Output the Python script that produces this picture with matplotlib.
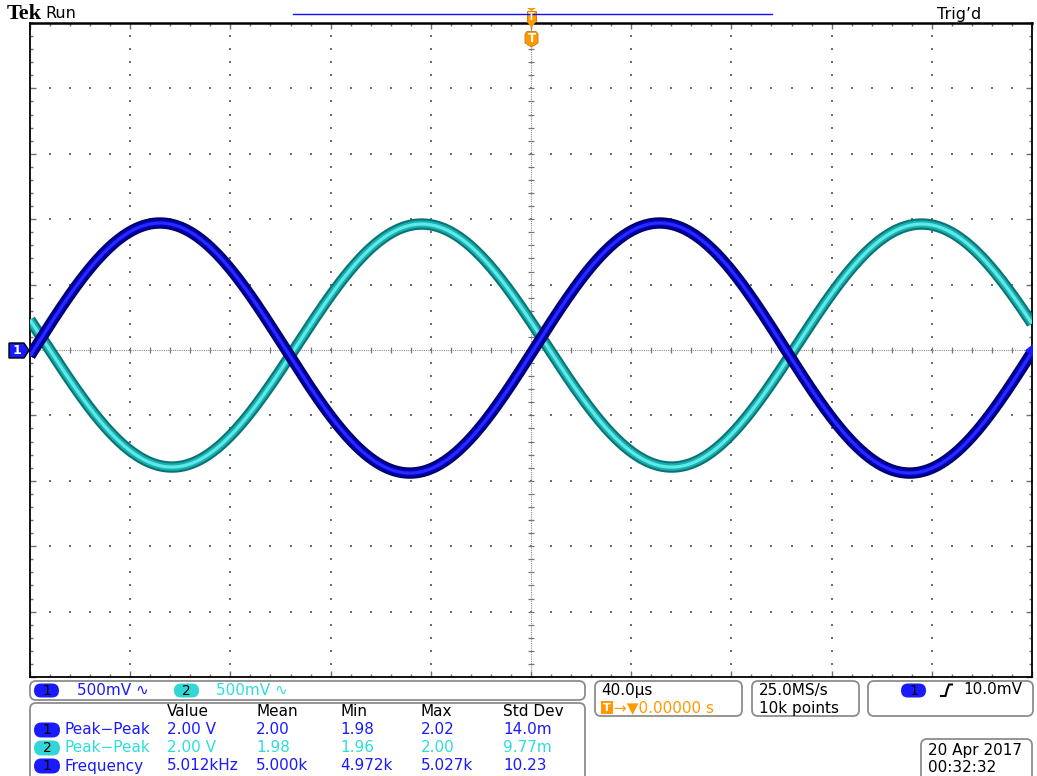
import numpy as np
import matplotlib
matplotlib.use("Agg")
import matplotlib.pyplot as plt
from matplotlib.patches import FancyBboxPatch, Polygon, Rectangle
from matplotlib.lines import Line2D

# ---- acquisition settings ----
time_per_div_us = 40.0          # 40.0 us/div
volts_per_div = 0.5             # 500 mV/div on both channels
n_hdiv, n_vdiv = 10, 10

# ---- channel signals (volts, microseconds) ----
freq_khz = 5.012
ch1_amp, ch1_offset, ch1_delay_us = 0.956, 0.015, 1.5      # sine, rising through trigger
ch2_amp, ch2_offset, ch2_peak_us = 0.929, 0.034, -43.6     # inverted, slight lag

# ---- measurement table ----
meas_header = ["Value", "Mean", "Min", "Max", "Std Dev"]
meas_rows = [
    ("1", "Peak\u2212Peak", ["2.00 V", "2.00", "1.98", "2.02", "14.0m"]),
    ("2", "Peak\u2212Peak", ["2.00 V", "1.98", "1.96", "2.00", "9.77m"]),
    ("1", "Frequency", ["5.012kHz", "5.000k", "4.972k", "5.027k", "10.23"]),
]
ch_scale_labels = ["500mV \u223f", "500mV \u223f"]
timebase_label = "40.0\u00b5s"
trig_pos_label = "\u2192\u25bc0.00000 s"
sample_labels = ["25.0MS/s", "10k points"]
trig_level_label = "10.0mV"
date_labels = ["20 Apr 2017", "00:32:32"]

BLUE = "#1a1aff"
CYAN = "#33d6d6"
CYAN_TXT = "#2fdcdc"
ORANGE = "#ff9a00"
GRID = "#6e6e6e"

W, H = 1037, 776
fig = plt.figure(figsize=(W / 100, H / 100), dpi=100, facecolor="white")
plt.rcParams["font.family"] = ["DejaVu Sans"]

# ---- graticule ----
gx0, gx1, gy0, gy1 = 30, 1032, 23, 677
ax = fig.add_axes([gx0 / W, (H - gy1) / H, (gx1 - gx0) / W, (gy1 - gy0) / H])
half_t = time_per_div_us * n_hdiv / 2
half_v = volts_per_div * n_vdiv / 2
ax.set_xlim(-half_t, half_t)
ax.set_ylim(-half_v, half_v)
ax.set_facecolor("white")

major_x = np.arange(-half_t, half_t + 1e-9, time_per_div_us)
minor_x = np.arange(-half_t, half_t + 1e-9, time_per_div_us / 5)
major_y = np.arange(-half_v, half_v + 1e-9, volts_per_div)
minor_y = np.arange(-half_v, half_v + 1e-9, volts_per_div / 5)
ax.set_xticks(major_x)
ax.set_xticks(minor_x, minor=True)
ax.set_yticks(major_y)
ax.set_yticks(minor_y, minor=True)
ax.tick_params(which="both", direction="in", top=True, right=True,
               labelbottom=False, labelleft=False, color="#707070", width=1.0)
ax.tick_params(which="major", length=4.5)
ax.tick_params(which="minor", length=2.4)
for sp in ax.spines.values():
    sp.set_color("black")
    sp.set_linewidth(1.3)
ax.spines["top"].set_linewidth(1.8)

# dotted division lines
inner_x = [v for v in major_x[1:-1] if abs(v) > 1e-9]
inner_y = [v for v in major_y[1:-1] if abs(v) > 1e-9]
dx, dy = [], []
for xv in inner_x:
    dx += [xv] * len(minor_y)
    dy += list(minor_y)
for yv in inner_y:
    dx += list(minor_x)
    dy += [yv] * len(minor_x)
ax.scatter(dx, dy, s=1.3, marker="s", color=GRID, linewidths=0, zorder=1)

# centre cross-hair with sub-division ticks
ax.axhline(0, color="#8a8a8a", lw=0.8, ls=(0, (1, 1)), zorder=1)
ax.axvline(0, color="#8a8a8a", lw=0.8, ls=(0, (1, 1)), zorder=1)
ax.plot(minor_x, np.zeros_like(minor_x), ls="none", marker="|", ms=5,
        mew=0.9, color="#777777", zorder=1)
ax.plot(np.zeros_like(minor_y), minor_y, ls="none", marker="_", ms=5,
        mew=0.9, color="#777777", zorder=1)

# ---- traces ----
t = np.linspace(-half_t, half_t, 2001)
w = 2 * np.pi * freq_khz * 1e-3          # rad per microsecond
ch1 = ch1_amp * np.sin(w * (t - ch1_delay_us)) + ch1_offset
ch2 = ch2_amp * np.cos(w * (t - ch2_peak_us)) + ch2_offset

for y, cols in ((ch2, ("#0a7373", "#1bb0b0", "#5fe9e9")),
                (ch1, ("#000066", "#0000c0", "#2a2aff"))):
    ax.plot(t, y, color=cols[0], lw=8.2, solid_capstyle="butt", zorder=3)
    ax.plot(t, y, color=cols[1], lw=5.2, solid_capstyle="butt", zorder=3)
    ax.plot(t, y, color=cols[2], lw=2.3, solid_capstyle="butt", zorder=3)

# ---- overlay in pixel coordinates ----
ov = fig.add_axes([0, 0, 1, 1], zorder=5)
ov.set_xlim(0, W)
ov.set_ylim(H, 0)
ov.axis("off")
ov.patch.set_alpha(0)

FS = 11


def box(x0, y0, x1, y1, r=6, ec="#8c8c8c"):
    ov.add_patch(FancyBboxPatch((x0, y0), x1 - x0, y1 - y0,
                                boxstyle=f"round,pad=0,rounding_size={r}",
                                fc="white", ec=ec, lw=1.3, clip_on=False))


def badge(x0, x1, yc, label, fc, h=14):
    ov.add_patch(FancyBboxPatch((x0, yc - h / 2), x1 - x0, h,
                                boxstyle=f"round,pad=0,rounding_size={h / 2}",
                                fc=fc, ec="none", clip_on=False))
    ov.text((x0 + x1) / 2, yc + 0.5, label, ha="center", va="center",
            fontsize=10, color="black")


# header line
ov.text(7, 14, "Tek", family="Liberation Serif", fontweight="bold",
        fontsize=16, va="center", ha="left", color="black")
ov.text(45, 14, "Run", fontsize=11.5, va="center", ha="left", color="black")
ov.text(937, 14, "Trig\u2019d", fontsize=11.5, va="center", ha="left", color="black")
ov.add_line(Line2D([293, 772], [14, 14], color="#1010ff", lw=1.0))

# trigger position markers
ov.add_patch(Polygon([[527, 8], [536, 8], [531.5, 11]], closed=True, fc=ORANGE, ec="none"))
ov.add_patch(Rectangle((527, 11), 9, 10, fc=ORANGE, ec="#c87000", lw=0.6))
ov.text(531.5, 16.5, "T", ha="center", va="center", fontsize=7, color="#fff3d0",
        fontweight="bold")
ov.add_patch(Polygon([[526.5, 21], [536.5, 21], [531.5, 28]], closed=True,
                     fc=ORANGE, ec="none"))
ov.add_patch(Polygon([[525, 34], [527, 31.5], [536, 31.5], [538, 34], [538, 43],
                      [531.5, 47], [525, 43]], closed=True, fc=ORANGE, ec="#d07800", lw=0.6))
ov.text(531.5, 39, "T", ha="center", va="center", fontsize=8.5, color="white",
        fontweight="bold")

# channel 1 ground marker and trigger level marker
ov.add_patch(Polygon([[9, 343], [24, 343], [29, 350.5], [24, 358], [9, 358]],
                     closed=True, fc=BLUE, ec="black", lw=1.0))
ov.text(17, 351, "1", ha="center", va="center", fontsize=9, color="white",
        fontweight="bold")
ov.add_patch(Polygon([[1033, 344], [1025, 350.5], [1033, 357]], closed=True,
                     fc=BLUE, ec="none"))

# channel scale bar
box(30, 681, 585, 700)
badge(34, 59, 690.5, "1", BLUE)
ov.text(77, 690.5, ch_scale_labels[0], fontsize=FS, color=BLUE, va="center")
badge(174, 199, 690.5, "2", CYAN)
ov.text(216, 690.5, ch_scale_labels[1], fontsize=FS, color=CYAN_TXT, va="center")

# measurement table
box(30, 703, 585, 790)
col_x = [167, 256, 340, 421, 503]
for cx, h in zip(col_x, meas_header):
    ov.text(cx, 712, h, fontsize=FS, color="black", va="center")
row_y = [730, 748, 766]
for ry, (ch, name, vals) in zip(row_y, meas_rows):
    fc = BLUE if ch == "1" else CYAN
    tc = BLUE if ch == "1" else CYAN_TXT
    badge(34, 60, ry, ch, fc, h=15)
    ov.text(65, ry, name, fontsize=FS, color=tc, va="center")
    for cx, v in zip(col_x, vals):
        ov.text(cx, ry, v, fontsize=FS, color=tc, va="center")

# timebase box
box(595, 681, 742, 716)
ov.text(601, 690, timebase_label, fontsize=FS, color="black", va="center")
ov.add_patch(Rectangle((601, 701), 12, 13, fc=ORANGE, ec="none"))
ov.text(607, 708, "T", ha="center", va="center", fontsize=8, color="white",
        fontweight="bold")
ov.text(614, 708, trig_pos_label, fontsize=FS, color=ORANGE, va="center")

# sample rate box
box(752, 681, 859, 716)
ov.text(759, 690, sample_labels[0], fontsize=FS, color="black", va="center")
ov.text(759, 708, sample_labels[1], fontsize=FS, color="black", va="center")

# trigger box
box(868, 681, 1033, 716)
badge(901, 926, 690.5, "1", BLUE)
ov.add_line(Line2D([941, 945.5, 947, 949, 952], [696, 696, 690, 684.5, 684.5],
                   color="black", lw=1.5))
ov.text(963, 690, trig_level_label, fontsize=FS, color="black", va="center")

# date box
box(921, 739, 1032, 790)
ov.text(928, 751, date_labels[0], fontsize=FS, color="black", va="center")
ov.text(928, 767, date_labels[1], fontsize=FS, color="black", va="center")

fig.savefig("out.png", dpi=100, facecolor="white")
